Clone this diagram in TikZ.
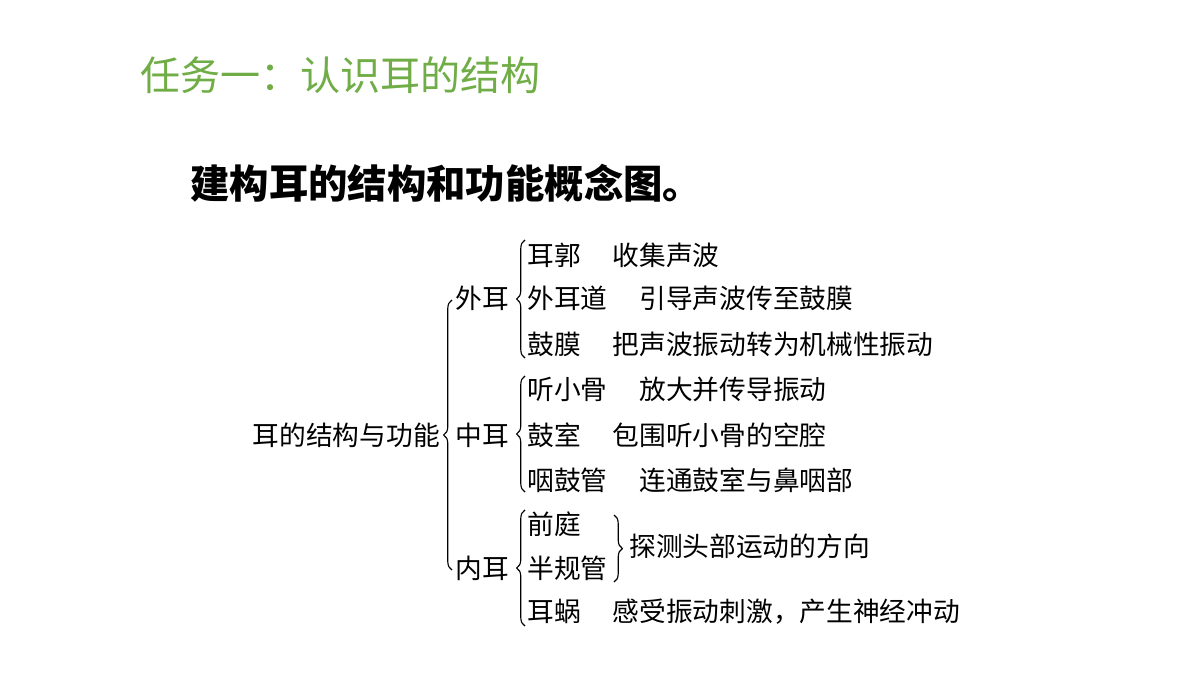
\documentclass[tikz,border=0pt]{standalone}
\usepackage{fontspec}
\setmainfont{Noto Sans CJK SC}
\newfontfamily\cjk{Noto Sans CJK SC}
\usetikzlibrary{decorations.pathreplacing}
\definecolor{titlegreen}{RGB}{112,173,71}
\tikzset{
  item/.style={anchor=west, inner sep=0pt, font=\cjk\fontsize{19}{22}\selectfont},
  brc/.style={decorate, decoration={brace, amplitude=6pt}, thick, line width=0.8pt}
}
\begin{document}
\begin{tikzpicture}[x=0.025cm, y=-0.025cm]
\useasboundingbox (0,0) rectangle (1200,675);
% TITLES
	\node [anchor=west, inner sep=0pt, text=titlegreen, font=\cjk\fontsize{28.5}{32}\selectfont] (title) at (140,75) {任务一：认识耳的结构};
	\node [anchor=west, inner sep=0pt, font=\cjk\bfseries\fontsize{28}{32}\selectfont] (sub) at (190,183) {建构耳的结构和功能概念图。};

% LEVEL ONE
	\node [item, anchor=east] (root) at (440,435) {耳的结构与功能};
	\draw [brc] (452,570) -- (452,300);
	\node [item] (outer) at (455,298) {外耳};
	\node [item] (middle) at (455,435) {中耳};
	\node [item] (inner) at (455,568) {内耳};

% LEVEL TWO
	\draw [brc] (525,358) -- (525,240);
	\draw [brc] (525,492) -- (525,376);
	\draw [brc] (525,626) -- (525,510);
	\node [item] (a1) at (527,255) {耳郭\hspace{1.2em}收集声波};
	\node [item] (a2) at (527,298) {外耳道\hspace{1.2em}引导声波传至鼓膜};
	\node [item] (a3) at (527,344) {鼓膜\hspace{1.2em}把声波振动转为机械性振动};
	\node [item] (b1) at (527,389) {听小骨\hspace{1.2em}放大并传导振动};
	\node [item] (b2) at (527,435) {鼓室\hspace{1.2em}包围听小骨的空腔};
	\node [item] (b3) at (527,480) {咽鼓管\hspace{1.2em}连通鼓室与鼻咽部};
	\node [item] (c1) at (527,524) {前庭};
	\node [item] (c2) at (527,568) {半规管};
	\node [item] (c3) at (527,612) {耳蜗\hspace{1.2em}感受振动刺激，产生神经冲动};
	\draw [brc] (614,515) -- (614,582);
	\node [item] (c12) at (629,546) {探测头部运动的方向};
\end{tikzpicture}
\end{document}
